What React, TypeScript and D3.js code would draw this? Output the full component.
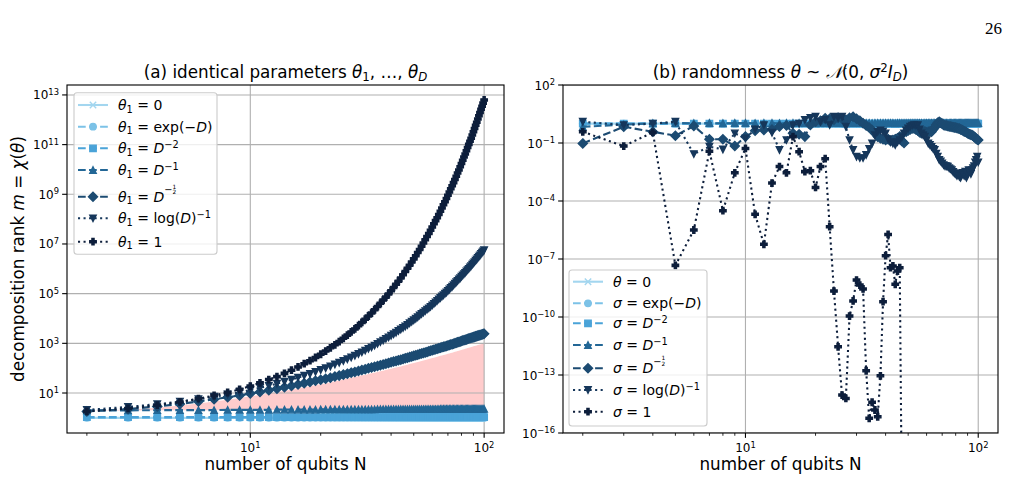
import React from 'react';
import * as d3 from 'd3';

const width = 1016;
const height = 481;

// number of qubits N on both x axes
const qubits = d3.range(2, 101);

// all values below are log10 of the plotted quantity, one per N = 2..100

// rank equal to one (theta = 0, exp(-D) and friends)
const logUnit = [
  0, 0, 0, 0, 0, 0, 0, 0, 0, 0,
  0, 0, 0, 0, 0, 0, 0, 0, 0, 0,
  0, 0, 0, 0, 0, 0, 0, 0, 0, 0,
  0, 0, 0, 0, 0, 0, 0, 0, 0, 0,
  0, 0, 0, 0, 0, 0, 0, 0, 0, 0,
  0, 0, 0, 0, 0, 0, 0, 0, 0, 0,
  0, 0, 0, 0, 0, 0, 0, 0, 0, 0,
  0, 0, 0, 0, 0, 0, 0, 0, 0, 0,
  0, 0, 0, 0, 0, 0, 0, 0, 0, 0,
  0, 0, 0, 0, 0, 0, 0, 0, 0,
];

// (a) theta_1 = D^-2
const rankInvSquare = [
  0.03, 0.03, 0.03, 0.03, 0.03, 0.03, 0.03, 0.03, 0.03, 0.03,
  0.03, 0.03, 0.03, 0.03, 0.03, 0.03, 0.03, 0.03, 0.03, 0.03,
  0.03, 0.03, 0.03, 0.03, 0.03, 0.03, 0.03, 0.03, 0.03, 0.03,
  0.03, 0.03, 0.03, 0.03, 0.03, 0.03, 0.03, 0.03, 0.03, 0.03,
  0.03, 0.03, 0.03, 0.03, 0.03, 0.03, 0.03, 0.03, 0.03, 0.03,
  0.03, 0.03, 0.03, 0.03, 0.03, 0.03, 0.03, 0.03, 0.03, 0.03,
  0.03, 0.03, 0.03, 0.03, 0.03, 0.03, 0.03, 0.03, 0.03, 0.03,
  0.03, 0.03, 0.03, 0.03, 0.03, 0.03, 0.03, 0.03, 0.03, 0.03,
  0.03, 0.03, 0.03, 0.03, 0.03, 0.03, 0.03, 0.03, 0.03, 0.03,
  0.03, 0.03, 0.03, 0.03, 0.03, 0.03, 0.03, 0.03, 0.03,
];

// (a) theta_1 = D^-1
const rankInv = [
  0.30, 0.30, 0.31, 0.31, 0.31, 0.31, 0.32, 0.32, 0.32, 0.32,
  0.32, 0.33, 0.33, 0.33, 0.33, 0.33, 0.33, 0.33, 0.34, 0.34,
  0.34, 0.34, 0.34, 0.34, 0.34, 0.34, 0.34, 0.34, 0.34, 0.34,
  0.34, 0.34, 0.34, 0.35, 0.35, 0.35, 0.35, 0.35, 0.35, 0.35,
  0.35, 0.35, 0.35, 0.35, 0.35, 0.35, 0.35, 0.35, 0.35, 0.35,
  0.35, 0.35, 0.35, 0.35, 0.35, 0.35, 0.35, 0.35, 0.35, 0.35,
  0.35, 0.35, 0.35, 0.36, 0.36, 0.36, 0.36, 0.36, 0.36, 0.36,
  0.36, 0.36, 0.36, 0.36, 0.36, 0.36, 0.36, 0.36, 0.36, 0.36,
  0.36, 0.36, 0.36, 0.36, 0.36, 0.36, 0.36, 0.36, 0.36, 0.36,
  0.36, 0.36, 0.36, 0.36, 0.36, 0.36, 0.36, 0.36, 0.36,
];

// (a) theta_1 = D^-1/2
const rankInvSqrt = [
  0.26, 0.35, 0.46, 0.56, 0.66, 0.75, 0.83, 0.90, 0.98, 1.04,
  1.11, 1.17, 1.23, 1.28, 1.34, 1.39, 1.44, 1.49, 1.53, 1.57,
  1.61, 1.66, 1.70, 1.74, 1.78, 1.82, 1.85, 1.89, 1.93, 1.96,
  2.00, 2.03, 2.06, 2.09, 2.12, 2.15, 2.18, 2.21, 2.24, 2.27,
  2.29, 2.32, 2.34, 2.37, 2.40, 2.42, 2.45, 2.47, 2.50, 2.52,
  2.54, 2.57, 2.59, 2.61, 2.63, 2.65, 2.68, 2.70, 2.72, 2.74,
  2.76, 2.78, 2.80, 2.82, 2.84, 2.86, 2.87, 2.89, 2.91, 2.93,
  2.95, 2.96, 2.98, 3.00, 3.02, 3.04, 3.05, 3.07, 3.09, 3.11,
  3.12, 3.14, 3.15, 3.17, 3.19, 3.20, 3.22, 3.23, 3.25, 3.26,
  3.28, 3.29, 3.31, 3.32, 3.33, 3.35, 3.36, 3.38, 3.39,
];

// (a) theta_1 = log(D)^-1
const rankInvLog = [
  0.32, 0.44, 0.55, 0.65, 0.75, 0.85, 0.94, 1.03, 1.12, 1.21,
  1.29, 1.38, 1.46, 1.54, 1.62, 1.70, 1.77, 1.85, 1.93, 2.00,
  2.07, 2.15, 2.22, 2.29, 2.36, 2.43, 2.50, 2.57, 2.64, 2.71,
  2.78, 2.84, 2.91, 2.98, 3.05, 3.11, 3.18, 3.24, 3.31, 3.37,
  3.43, 3.50, 3.56, 3.62, 3.68, 3.74, 3.81, 3.87, 3.93, 3.99,
  4.05, 4.12, 4.18, 4.24, 4.30, 4.36, 4.41, 4.47, 4.53, 4.59,
  4.65, 4.71, 4.77, 4.83, 4.89, 4.94, 5.00, 5.05, 5.11, 5.17,
  5.23, 5.28, 5.34, 5.40, 5.46, 5.51, 5.57, 5.62, 5.68, 5.73,
  5.79, 5.84, 5.90, 5.95, 6.00, 6.06, 6.11, 6.17, 6.22, 6.27,
  6.33, 6.38, 6.44, 6.49, 6.54, 6.60, 6.65, 6.70, 6.75,
];

// (a) theta_1 = 1
const rankOne = [
  0.26, 0.38, 0.51, 0.64, 0.77, 0.90, 1.02, 1.15, 1.28, 1.41,
  1.54, 1.66, 1.79, 1.92, 2.05, 2.18, 2.30, 2.43, 2.56, 2.69,
  2.82, 2.94, 3.07, 3.20, 3.33, 3.46, 3.58, 3.71, 3.84, 3.97,
  4.10, 4.22, 4.35, 4.48, 4.61, 4.74, 4.86, 4.99, 5.12, 5.25,
  5.38, 5.50, 5.63, 5.76, 5.89, 6.02, 6.14, 6.27, 6.40, 6.53,
  6.66, 6.78, 6.91, 7.04, 7.17, 7.30, 7.42, 7.55, 7.68, 7.81,
  7.94, 8.06, 8.19, 8.32, 8.45, 8.58, 8.70, 8.83, 8.96, 9.09,
  9.22, 9.34, 9.47, 9.60, 9.73, 9.86, 9.98, 10.11, 10.24, 10.37,
  10.50, 10.62, 10.75, 10.88, 11.01, 11.14, 11.26, 11.39, 11.52, 11.65,
  11.78, 11.90, 12.03, 12.16, 12.29, 12.42, 12.54, 12.67, 12.80,
];

// (a) upper edge of the shaded band (lower edge is the D^-1 curve)
const bandTop = [
  0.30, 0.33, 0.41, 0.50, 0.58, 0.66, 0.73, 0.80, 0.87, 0.92,
  0.98, 1.04, 1.09, 1.13, 1.19, 1.23, 1.27, 1.32, 1.35, 1.39,
  1.42, 1.47, 1.50, 1.54, 1.58, 1.61, 1.64, 1.67, 1.71, 1.73,
  1.77, 1.80, 1.82, 1.85, 1.88, 1.90, 1.93, 1.96, 1.98, 2.01,
  2.03, 2.05, 2.07, 2.10, 2.12, 2.14, 2.17, 2.19, 2.21, 2.23,
  2.25, 2.27, 2.29, 2.31, 2.33, 2.35, 2.37, 2.39, 2.41, 2.42,
  2.44, 2.46, 2.48, 2.50, 2.51, 2.53, 2.54, 2.56, 2.58, 2.59,
  2.61, 2.62, 2.64, 2.66, 2.67, 2.69, 2.70, 2.72, 2.73, 2.75,
  2.76, 2.78, 2.79, 2.81, 2.82, 2.83, 2.85, 2.86, 2.88, 2.89,
  2.90, 2.91, 2.93, 2.94, 2.95, 2.96, 2.97, 2.99, 3.00,
];

// (b) sigma = D^-1
const randInv = [
  -0.16, -0.05, 0.02, 0.03, 0.02, 0.03, 0.02, 0.03, 0.03, 0.02,
  0.03, 0.03, 0.02, 0.03, 0.03, 0.04, 0.03, 0.03, 0.02, 0.03,
  0.03, 0.04, 0.03, 0.03, 0.03, 0.02, 0.03, 0.03, 0.03, 0.04,
  0.03, 0.03, 0.03, 0.02, 0.03, 0.03, 0.03, 0.03, 0.04, 0.03,
  0.03, 0.03, 0.02, 0.03, 0.03, 0.03, 0.03, 0.03, 0.03, 0.03,
  0.03, 0.04, 0.03, 0.03, 0.03, 0.03, 0.02, 0.03, 0.03, 0.03,
  0.03, 0.03, 0.03, 0.03, 0.04, 0.03, 0.03, 0.03, 0.03, 0.03,
  0.03, 0.03, 0.02, 0.03, 0.03, 0.03, 0.03, 0.03, 0.03, 0.03,
  0.03, 0.03, 0.03, 0.03, 0.03, 0.04, 0.03, 0.03, 0.03, 0.03,
  0.03, 0.03, 0.03, 0.03, 0.03, 0.03, 0.03, 0.03, 0.03,
];

// (b) sigma = D^-1/2
const randInvSqrt = [
  -1.02, -0.16, -0.42, -0.62, -0.12, -0.81, -0.81, -1.16, -0.67, -0.36,
  -0.33, -0.30, -0.15, -0.10, -0.50, -0.55, -0.67, -0.07, 0.10, 0.15,
  0.28, 0.25, 0.20, 0.30, 0.25, 0.20, 0.30, 0.36, 0.25, 0.15,
  0.02, -0.10, -0.20, -0.33, -0.50, -0.67, -0.75, -0.80, -0.85, -0.80,
  -0.90, -0.85, -0.80, -0.75, -0.67, -0.90, -1.00, -0.42, -0.35, -0.30,
  -0.25, -0.25, -0.30, -0.35, -0.45, -0.50, -0.45, -0.40, -0.45, -0.42,
  -0.40, -0.42, -0.30, -0.20, -0.05, 0.05, 0.10, 0.05, 0.00, -0.07,
  -0.10, -0.10, -0.12, -0.15, -0.15, -0.16, -0.18, -0.20, -0.20, -0.22,
  -0.25, -0.25, -0.30, -0.32, -0.35, -0.40, -0.42, -0.45, -0.50, -0.52,
  -0.55, -0.57, -0.59, -0.62, -0.68, -0.72, -0.78, -0.82, -0.85,
];

// (b) sigma = log(D)^-1
const randInvLog = [
  0.10, -0.07, 0.00, 0.10, -1.57, -1.19, -1.33, -0.50, -0.76, -0.29,
  -0.07, -0.47, -1.36, -0.85, -0.07, 0.00, 0.19, 0.30, 0.36, 0.10,
  0.20, -0.07, 0.36, 0.30, 0.36, -0.16, -0.85, -1.36, -1.71, -1.78,
  -1.78, -1.62, -1.30, -1.02, -0.60, -0.42, -0.35, -0.40, -0.50, -0.80,
  -0.95, -1.02, -1.10, -0.95, -0.85, -0.70, -0.50, -0.35, -0.25, -0.16,
  -0.10, -0.07, -0.10, -0.07, -0.30, -0.50, -0.60, -0.67, -0.85, -1.02,
  -1.10, -1.20, -1.30, -1.36, -1.55, -1.70, -1.88, -1.95, -2.05, -2.14,
  -2.20, -2.20, -2.22, -2.30, -2.35, -2.40, -2.50, -2.57, -2.60, -2.70,
  -2.57, -2.75, -2.80, -2.66, -2.55, -2.70, -2.48, -2.80, -2.60, -2.40,
  -2.45, -2.60, -2.40, -2.30, -2.20, -2.00, -1.88, -1.70, -2.00,
];

// (b) sigma = 1, only N = 2..47 (last one drops below the axis)
const randOne = [
  -0.42, -1.16, -0.45, -7.33, -5.50, -1.43, -4.50, -2.54, -1.28, -4.69,
  -6.24, -3.07, -2.22, -2.54, -0.67, -1.45, -2.48, -2.43, -3.30, -2.22,
  -1.81, -5.33, -8.66, -11.54, -14.04, -14.21, -9.95, -9.17, -8.09, -8.35,
  -8.55, -12.78, -15.24, -14.41, -14.81, -15.16, -13.04, -9.21, -6.83, -5.73,
  -7.45, -7.36, -8.31, -7.62, -7.45, -20,
];

const colors = ['#a3d6ef', '#7cc2e7', '#4aa3d8', '#236796', '#1c4b72', '#16375b', '#0d1e3b'];

const pt = 1.39; // px per point
const msz = 6.4;
const lw = 1.5 * pt;
const dashed = `${3.7 * lw},${1.6 * lw}`;
const dotted = `${1 * lw},${1.65 * lw}`;

// matplotlib-like marker shapes as d3 symbol types (size = marker size in px)
const symbols: Record<string, any> = {
  x: { draw(c: any, s: number) { const r = s / 2; c.moveTo(-r, -r); c.lineTo(r, r); c.moveTo(-r, r); c.lineTo(r, -r); } },
  o: { draw(c: any, s: number) { c.moveTo(s / 2, 0); c.arc(0, 0, s / 2, 0, 2 * Math.PI); } },
  s: { draw(c: any, s: number) { c.rect(-s / 2, -s / 2, s, s); } },
  '^': { draw(c: any, s: number) { const r = s / 2; c.moveTo(0, -r); c.lineTo(r, r); c.lineTo(-r, r); c.closePath(); } },
  v: { draw(c: any, s: number) { const r = s / 2; c.moveTo(0, r); c.lineTo(r, -r); c.lineTo(-r, -r); c.closePath(); } },
  D: { draw(c: any, s: number) { const r = s * 0.707; c.moveTo(0, -r); c.lineTo(r, 0); c.lineTo(0, r); c.lineTo(-r, 0); c.closePath(); } },
  P: {
    draw(c: any, s: number) {
      const a = s / 2, b = s / 6;
      const p = [[-b, -a], [b, -a], [b, -b], [a, -b], [a, b], [b, b], [b, a], [-b, a], [-b, b], [-a, b], [-a, -b], [-b, -b]];
      p.forEach(([x, y], i) => (i ? c.lineTo(x, y) : c.moveTo(x, y)));
      c.closePath();
    },
  },
};

const styles = [
  { color: colors[0], dash: null, marker: 'x' },
  { color: colors[1], dash: dashed, marker: 'o' },
  { color: colors[2], dash: dashed, marker: 's' },
  { color: colors[3], dash: dashed, marker: '^' },
  { color: colors[4], dash: dashed, marker: 'D' },
  { color: colors[5], dash: dotted, marker: 'v' },
  { color: colors[6], dash: dotted, marker: 'P' },
];

const font = 'DejaVu Sans, sans-serif';

// tiny mathtext: [text, flags] with i = italic, b = sub, p = sup, q = raised sup, f/g = fraction top/bottom
const shift: Record<string, number> = { n: 0, b: 0.18, p: -0.36, q: -0.6, f: -0.92, g: -0.55 };
const scale: Record<string, number> = { n: 1, b: 0.7, p: 0.7, q: 0.7, f: 0.42, g: 0.42 };

function MathText({ x, y, parts, size, anchor = 'start', transform }: any) {
  let cur = 0;
  return (
    <text x={x} y={y} fontSize={size} textAnchor={anchor} transform={transform}
      fontFamily={font} style={{ whiteSpace: 'pre' }} fill="#000">
      {parts.map(([t, f = ''], i: number) => {
        const lvl = (f.match(/[bpqfg]/) || ['n'])[0];
        const s = shift[lvl] * size;
        const dy = s - cur;
        cur = s;
        const dx = lvl === 'g' ? -0.636 * scale.g * size : undefined;
        return (
          <tspan key={i} dy={dy} dx={dx} fontSize={scale[lvl] * size}
            fontStyle={f.includes('i') ? 'italic' : undefined}>{t}</tspan>
        );
      })}
    </text>
  );
}

const sup = (e: string) => [['10'], [e, 'p']];

function Panel({ id, x0, x1, y0, y1, yDomain, yTicks, series, band, title, ylabel, legend }: any) {
  const lo = Math.log10(d3.min(qubits) as number);
  const hi = Math.log10(d3.max(qubits) as number);
  const pad = (hi - lo) * 0.05;
  const xs = d3.scaleLog().domain([10 ** (lo - pad), 10 ** (hi + pad)]).range([x0, x1]);
  const ys = d3.scaleLog().domain(yDomain).range([y1, y0]);

  const xMajor = [10, 100];
  const xMinor = [...d3.range(2, 10), ...d3.range(20, 100, 10)];

  const area = band && d3.area<number>()
    .x((d, i) => xs(qubits[i]))
    .y0((d, i) => ys(10 ** band.lo[i]))
    .y1((d) => ys(10 ** d));

  const line = d3.line<number>()
    .x((d, i) => xs(qubits[i]))
    .y((d) => ys(10 ** d));

  const cx = (x0 + x1) / 2;
  const cy = (y0 + y1) / 2;

  return (
    <g>
      <defs>
        <clipPath id={id}>
          <rect x={x0} y={y0} width={x1 - x0} height={y1 - y0} />
        </clipPath>
      </defs>
      <g clipPath={`url(#${id})`}>
        {band && <path d={area(band.hi) as string} fill="#ffcccc" stroke="none" />}
        {xMajor.map((t) => (
          <line key={t} x1={xs(t)} x2={xs(t)} y1={y0} y2={y1} stroke="#b0b0b0" strokeWidth={0.8 * pt} />
        ))}
        {yTicks.map((e: number) => (
          <line key={e} x1={x0} x2={x1} y1={ys(10 ** e)} y2={ys(10 ** e)} stroke="#b0b0b0" strokeWidth={0.8 * pt} />
        ))}
        {series.map((s: any, k: number) => {
          const st = styles[k];
          const sym = d3.symbol(symbols[st.marker], msz)() as string;
          const stroke = st.marker === 'x';
          return (
            <g key={k}>
              <path d={line(s) as string} fill="none" stroke={st.color} strokeWidth={lw}
                strokeDasharray={st.dash || undefined} />
              {s.map((v: number, i: number) => (
                <path key={i} d={sym} transform={`translate(${xs(qubits[i])},${ys(10 ** v)})`}
                  fill={stroke ? 'none' : st.color} stroke={st.color} strokeWidth={pt} />
              ))}
            </g>
          );
        })}
      </g>

      {/* x ticks */}
      {xMajor.map((t) => (
        <g key={t}>
          <line x1={xs(t)} x2={xs(t)} y1={y1} y2={y1 + 3.5 * pt} stroke="#000" strokeWidth={0.8 * pt} />
          <MathText x={xs(t)} y={y1 + 19} size={12} anchor="middle" parts={sup(String(Math.log10(t)))} />
        </g>
      ))}
      {xMinor.map((t) => (
        <line key={t} x1={xs(t)} x2={xs(t)} y1={y1} y2={y1 + 2 * pt} stroke="#000" strokeWidth={0.6 * pt} />
      ))}
      {/* y ticks */}
      {yTicks.map((e: number) => (
        <g key={e}>
          <line x1={x0 - 3.5 * pt} x2={x0} y1={ys(10 ** e)} y2={ys(10 ** e)} stroke="#000" strokeWidth={0.8 * pt} />
          <MathText x={x0 - 8} y={ys(10 ** e) + 4.5} size={12} anchor="end"
            parts={sup(e < 0 ? `\u2212${-e}` : String(e))} />
        </g>
      ))}
      <rect x={x0} y={y0} width={x1 - x0} height={y1 - y0} fill="none" stroke="#000" strokeWidth={0.8 * pt} />

      <MathText x={cx} y={y0 - 7} size={16.8} anchor="middle" parts={title} />
      <MathText x={cx} y={470} size={16.8} anchor="middle" parts={[['number of qubits N']]} />
      {ylabel && (
        <MathText x={23.5} y={cy} size={16.8} anchor="middle" parts={ylabel}
          transform={`rotate(-90, 23.5, ${cy})`} />
      )}

      {/* legend */}
      <g>
        <rect x={legend.x} y={legend.y} width={legend.w} height={legend.h} rx={3}
          fill="#fff" fillOpacity={0.8} stroke="#cccccc" strokeWidth={pt * 0.8} />
        {legend.labels.map((lab: any, k: number) => {
          const st = styles[k];
          const ry = legend.y + legend.rows[k];
          const hx = legend.x + 4;
          const sym = d3.symbol(symbols[st.marker], msz)() as string;
          return (
            <g key={k}>
              <line x1={hx} x2={hx + 30} y1={ry} y2={ry} stroke={st.color} strokeWidth={lw}
                strokeDasharray={st.dash || undefined} />
              <path d={sym} transform={`translate(${hx + 15},${ry})`}
                fill={st.marker === 'x' ? 'none' : st.color} stroke={st.color} strokeWidth={pt} />
              <MathText x={hx + 40} y={ry + 5} size={14} parts={lab} />
            </g>
          );
        })}
      </g>
    </g>
  );
}

const th1 = [['θ', 'i'], ['1', 'b']];
const sg = [['σ', 'i']];
const rhs = [
  [[' = 0']],
  [[' = exp(\u2212'], ['D', 'i'], [')']],
  [[' = '], ['D', 'i'], ['\u22122', 'p']],
  [[' = '], ['D', 'i'], ['\u22121', 'p']],
  [[' = '], ['D', 'i'], ['\u2212', 'q'], ['1', 'f'], ['2', 'g']],
  [[' = log('], ['D', 'i'], [')'], ['\u22121', 'p']],
  [[' = 1']],
];
const leftLabels = rhs.map((r) => [...th1, ...r]);
const rightLabels = rhs.map((r, i) => (i === 0 ? [['θ', 'i'], ...r] : [...sg, ...r]));

const titleA = [['(a) identical parameters '], ['θ', 'i'], ['1', 'b'], [', \u2026, '], ['θ', 'i'], ['D', 'ib']];
const titleB = [['(b) randomness '], ['θ', 'i'], [' ~ '], ['\u{1D4A9}', 'i'], ['(0, '], ['σ', 'i'], ['2', 'p'], ['I', 'i'], ['D', 'ib'], [')']];
const yLabelA = [['decomposition rank '], ['m', 'i'], [' = '], ['χ', 'i'], ['('], ['θ', 'i'], [')']];

export default function App() {
  return (
    <svg width={width} height={height} style={{ position: 'absolute', left: 0, top: 0, background: '#fff' }}>
      <rect width={width} height={height} fill="#fff" />
      <text x={1002} y={34} fontSize={17} textAnchor="end" fontFamily="Liberation Serif, serif">26</text>
      <Panel
        id="clipA" x0={67} x1={504} y0={85} y1={433}
        yDomain={[10 ** -0.61, 10 ** 13.4]}
        yTicks={[1, 3, 5, 7, 9, 11, 13]}
        series={[logUnit, logUnit, rankInvSquare, rankInv, rankInvSqrt, rankInvLog, rankOne]}
        band={{ lo: rankInv, hi: bandTop }}
        title={titleA}
        ylabel={yLabelA}
        legend={{ x: 74, y: 92.7, w: 143, h: 161.5, rows: [12.3, 34, 55.6, 77.3, 104, 125.6, 149], labels: leftLabels }}
      />
      <Panel
        id="clipB" x0={563} x1={998} y0={85} y1={433}
        yDomain={[1e-16, 1e2]}
        yTicks={[2, -1, -4, -7, -10, -13, -16]}
        series={[logUnit, logUnit, logUnit, randInv, randInvSqrt, randInvLog, randOne]}
        title={titleB}
        legend={{ x: 569, y: 270, w: 138, h: 156, rows: [11.7, 33.3, 53.3, 75, 98.3, 120, 141.7], labels: rightLabels }}
      />
    </svg>
  );
}
